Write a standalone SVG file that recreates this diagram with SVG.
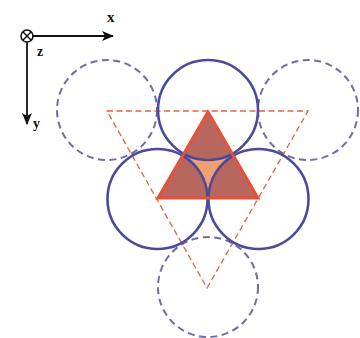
<svg xmlns="http://www.w3.org/2000/svg" width="360" height="338" viewBox="0 0 360 338">
<defs>
<style>
.solid{fill:none;stroke:#4b4a9c;stroke-width:2.6}
.dash{fill:none;stroke:#6e6ea6;stroke-width:2;stroke-dasharray:7 4.5}
.tri{fill:none;stroke:#e8603e;stroke-width:1.3;stroke-dasharray:6 3.5}
.lbl{font-family:"Liberation Serif",serif;font-weight:bold;fill:#111}
.ax{stroke:#111;stroke-width:1.8;fill:none}
</style>
<marker id="ah" viewBox="0 0 12 10" refX="11" refY="5" markerWidth="12" markerHeight="10" markerUnits="userSpaceOnUse" orient="auto">
<path d="M0,0 L12,5 L0,10 L3,5 Z" fill="#111"/>
</marker>
</defs>
<rect width="360" height="338" fill="#fff"/>
<g id="axes">
<line class="ax" x1="27" y1="36" x2="113" y2="36" marker-end="url(#ah)"/>
<line class="ax" x1="27" y1="36" x2="27" y2="124" marker-end="url(#ah)"/>
<circle cx="27" cy="36" r="6" fill="#fff" stroke="#111" stroke-width="1.6"/>
<path d="M22.8,31.8 L31.2,40.2 M31.2,31.8 L22.8,40.2" stroke="#111" stroke-width="1.4"/>
<text class="lbl" x="107" y="22" font-size="15">x</text>
<text class="lbl" x="37" y="56" font-size="14">z</text>
<text class="lbl" x="33" y="128" font-size="14">y</text>
</g>
<g id="dashed-circles">
<circle class="dash" cx="107" cy="110" r="50"/>
<circle class="dash" cx="308" cy="110" r="50"/>
<circle class="dash" cx="208" cy="287" r="50"/>
</g>
<g id="dashed-triangle">
<polygon class="tri" points="107,111 308,111 207,288"/>
</g>
<g id="filled-triangle">
<polygon points="208,112 158,198 258,198" fill="#b8675f"/>
<path d="M183,154 A50,50 0 0 0 233,154 A50,50 0 0 0 208,198 A50,50 0 0 0 183,154 Z" fill="#f0a070"/>
</g>
<g id="solid-circles">
<circle class="solid" cx="208" cy="110" r="50"/>
<circle class="solid" cx="157.5" cy="199" r="50"/>
<circle class="solid" cx="258.5" cy="199" r="50"/>
</g>
<g id="triangle-outline">
<polygon points="208,112 158,198 258,198" fill="none" stroke="#e8503a" stroke-width="3" stroke-linejoin="miter"/>
</g>
</svg>
